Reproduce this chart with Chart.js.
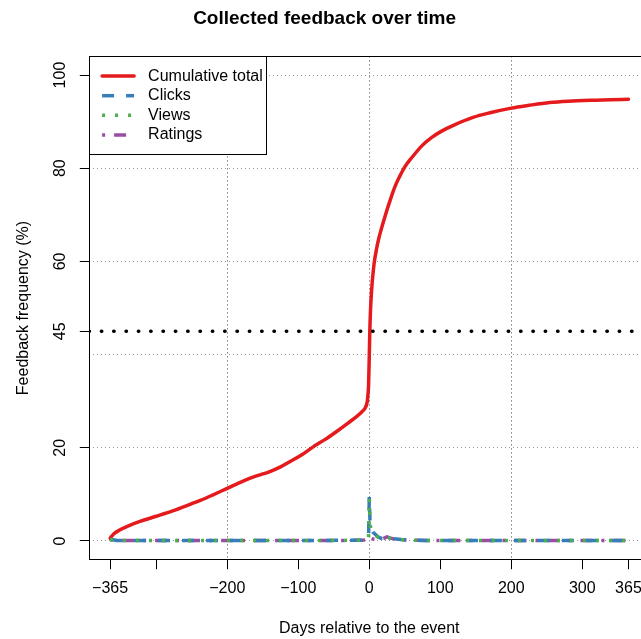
<!DOCTYPE html>
<html>
<head>
<meta charset="utf-8">
<title>Collected feedback over time</title>
<script src="https://cdn.jsdelivr.net/npm/chart.js@4.4.1/dist/chart.umd.min.js"></script>
<style>
  html, body { margin: 0; padding: 0; background: #fff; overflow: hidden; }
  canvas { display: block; }
</style>
</head>
<body>
<canvas id="feedbackChart" width="739" height="639"></canvas>
<script>
// ---- data: days relative to the event, feedback in % of total ----
const cumulativeDays = [-365, -360, -351, -340, -323, -300, -276, -250, -238, -220,
  -200, -177, -160, -140, -125, -112, -95, -79, -62, -46,
  -30, -18, -10, -6, -3, -2, -1, 0, 1, 2,
  3, 4, 5, 7, 10, 13, 17, 22, 28, 36,
  43, 50, 60, 74, 88, 100, 120, 146, 170, 200,
  225, 254, 280, 311, 340, 365];
const cumulativePct = [0.6, 1.5, 2.4, 3.2, 4.2, 5.3, 6.5, 8.0, 8.7, 9.9,
  11.3, 12.9, 13.9, 14.9, 15.9, 17.0, 18.5, 20.2, 21.8, 23.5,
  25.3, 26.7, 27.8, 28.5, 29.8, 31.2, 33.5, 40.0, 46.5, 50.5,
  53.2, 55.3, 57.0, 59.8, 62.5, 64.7, 67.0, 69.6, 72.5, 76.0,
  78.3, 80.3, 82.3, 84.8, 86.6, 87.8, 89.3, 90.9, 91.9, 92.9,
  93.5, 94.1, 94.4, 94.6, 94.7, 94.8];

const dailyDays = [-365, -355, -340, -320, -300, -280, -260, -240, -220, -200,
  -180, -160, -140, -120, -100, -80, -60, -40, -20, -10,
  -5, -3, -2, -1, 0, 1, 2, 3, 5, 8,
  12, 16, 20, 25, 30, 35, 45, 60, 80, 100,
  125, 150, 175, 200, 225, 250, 275, 300, 325, 350,
  365];
const clicksPct = [0.35, 0.12, 0.1, 0.11, 0.09, 0.1, 0.12, 0.1, 0.09, 0.1,
  0.11, 0.1, 0.09, 0.1, 0.11, 0.1, 0.12, 0.13, 0.15, 0.18,
  0.22, 0.4, 0.55, 0.8, 9.5, 4.1, 3.0, 2.4, 1.9, 1.5,
  0.9, 0.6, 0.55, 0.85, 0.6, 0.45, 0.3, 0.2, 0.12, 0.1,
  0.09, 0.1, 0.1, 0.09, 0.1, 0.1, 0.09, 0.08, 0.09, 0.08,
  0.08];
const viewsPct = [0.3, 0.1, 0.09, 0.1, 0.1, 0.09, 0.1, 0.11, 0.1, 0.09,
  0.1, 0.1, 0.1, 0.09, 0.1, 0.11, 0.1, 0.12, 0.14, 0.17,
  0.2, 0.35, 0.5, 0.7, 9.1, 3.8, 2.8, 2.2, 1.7, 1.3,
  0.85, 0.55, 0.5, 0.8, 0.55, 0.4, 0.28, 0.18, 0.11, 0.1,
  0.1, 0.09, 0.1, 0.1, 0.09, 0.1, 0.08, 0.09, 0.08, 0.08,
  0.08];
const ratingsPct = [0.25, 0.1, 0.1, 0.09, 0.1, 0.1, 0.1, 0.09, 0.1, 0.1,
  0.09, 0.1, 0.1, 0.1, 0.09, 0.1, 0.11, 0.12, 0.13, 0.16,
  0.25, 0.5, 0.7, 0.9, 1.0, 0.8, 0.6, 0.5, 0.4, 0.35,
  0.3, 0.35, 0.5, 0.9, 0.6, 0.4, 0.25, 0.15, 0.1, 0.09,
  0.1, 0.1, 0.09, 0.1, 0.1, 0.09, 0.1, 0.08, 0.08, 0.09,
  0.08];

const TARGET_LEVEL = 45;

// ---- axes ----
const X_RANGE = 394.2;
const X_TICKS = [-365, -300, -200, -100, 0, 100, 200, 300, 365];
const X_TICK_LABELS = ["\u2212365", "", "\u2212200", "\u2212100", "0", "100", "200", "300", "365"];
const X_GRID = [-200, 0, 200];
const Y_TICKS = [0, 20, 40, 45, 60, 80, 100];
const Y_TICK_LABELS = ["0", "20", "", "45", "60", "80", "100"];
const Y_GRID = [0, 20, 40, 60, 80, 100];

const FONT = "'Liberation Sans', Arial, Helvetica, sans-serif";
Chart.defaults.font.family = FONT;
Chart.defaults.font.size = 16;
Chart.defaults.color = "#000";

function points(days, values) {
  return days.map((d, i) => ({ x: d, y: values[i] }));
}

// box around the plotting region
const plotFrame = {
  id: "plotFrame",
  afterDatasetsDraw(chart) {
    const { ctx, chartArea: a } = chart;
    ctx.save();
    ctx.strokeStyle = "#000";
    ctx.lineWidth = 1;
    ctx.strokeRect(Math.round(a.left) + 0.5, Math.round(a.top) + 0.5,
      Math.round(a.right - a.left), Math.round(a.bottom - a.top));
    ctx.restore();
  },
};

// legend in the top-left corner of the plot
const insetLegend = {
  id: "insetLegend",
  afterDraw(chart) {
    const { ctx, chartArea: a } = chart;
    const x0 = Math.round(a.left) + 0.5;
    const y0 = Math.round(a.top) + 0.5;
    ctx.save();
    ctx.fillStyle = "#fff";
    ctx.fillRect(x0, y0, 177, 98);
    ctx.strokeStyle = "#000";
    ctx.lineWidth = 1;
    ctx.strokeRect(x0, y0, 177, 98);
    chart.data.datasets.slice(0, 4).forEach((ds, i) => {
      const y = y0 + 19.6 + i * 19.6;
      ctx.beginPath();
      ctx.setLineDash(ds.borderDash || []);
      ctx.lineCap = ds.borderCapStyle || "butt";
      ctx.lineWidth = ds.borderWidth;
      ctx.strokeStyle = ds.borderColor;
      ctx.moveTo(x0 + 12.6, y);
      ctx.lineTo(x0 + 44.6, y);
      ctx.stroke();
      ctx.setLineDash([]);
      ctx.fillStyle = "#000";
      ctx.font = "16px " + FONT;
      ctx.textBaseline = "middle";
      ctx.fillText(ds.label, x0 + 58.6, y);
    });
    ctx.restore();
  },
};

new Chart(document.getElementById("feedbackChart"), {
  type: "line",
  data: {
    datasets: [
      {
        label: "Cumulative total",
        data: points(cumulativeDays, cumulativePct),
        borderColor: "#E41A1C",
        borderWidth: 3.5,
        cubicInterpolationMode: "monotone",
        borderCapStyle: "round",
        order: 5,
      },
      {
        label: "Clicks",
        data: points(dailyDays, clicksPct),
        borderColor: "#377EB8",
        borderWidth: 3.5,
        borderDash: [12, 12],
        order: 2,
      },
      {
        label: "Views",
        data: points(dailyDays, viewsPct),
        borderColor: "#4DAF4A",
        borderWidth: 3.5,
        borderDash: [3, 10],
        order: 1,
      },
      {
        label: "Ratings",
        data: points(dailyDays, ratingsPct),
        borderColor: "#984EA3",
        borderWidth: 3.5,
        borderDash: [3, 9, 12, 9],
        order: 3,
      },
      {
        label: "target",
        data: [{ x: -X_RANGE, y: TARGET_LEVEL }, { x: X_RANGE, y: TARGET_LEVEL }],
        borderColor: "#000",
        borderWidth: 3.4,
        borderDash: [0.5, 11.83],
        borderDashOffset: 0.4,
        borderCapStyle: "round",
        order: 0,
      },
    ],
  },
  options: {
    responsive: false,
    animation: false,
    events: [],
    elements: { point: { radius: 0 }, line: { tension: 0, borderJoinStyle: "round" } },
    layout: { padding: { left: 0, right: 89.8, top: 0, bottom: 0 } },
    plugins: {
      legend: { display: false },
      tooltip: { enabled: false },
      title: {
        display: true,
        text: "Collected feedback over time",
        font: { size: 19, weight: "bold" },
        padding: { top: 7.6, bottom: 26 },
      },
    },
    scales: {
      x: {
        type: "linear",
        min: -X_RANGE,
        max: X_RANGE,
        afterBuildTicks: (scale) => { scale.ticks = X_TICKS.map((v) => ({ value: v })); },
        afterFit: (scale) => { scale.height = 79.4; },
        ticks: {
          autoSkip: false,
          maxRotation: 0,
          padding: 9.5,
          callback: (v) => X_TICK_LABELS[X_TICKS.indexOf(v)],
        },
        grid: {
          color: (c) => (c.tick && X_GRID.includes(c.tick.value) ? "#444" : "rgba(0,0,0,0)"),
          tickColor: "#000",
          tickLength: 9.6,
          lineWidth: 1,
        },
        border: { display: false, dash: [1, 3] },
        title: {
          display: true,
          text: "Days relative to the event",
          padding: { top: 0, bottom: 1 },
        },
      },
      y: {
        type: "linear",
        min: -4,
        max: 104,
        afterBuildTicks: (scale) => { scale.ticks = Y_TICKS.map((v) => ({ value: v })); },
        afterFit: (scale) => { scale.width = 89.4; },
        ticks: {
          autoSkip: false,
          minRotation: 90,
          maxRotation: 90,
          crossAlign: "center",
          padding: 6,
          callback: (v) => Y_TICK_LABELS[Y_TICKS.indexOf(v)],
        },
        grid: {
          color: (c) => (c.tick && Y_GRID.includes(c.tick.value) ? "#999" : "rgba(0,0,0,0)"),
          tickColor: (c) => (c.tick && Y_TICK_LABELS[Y_TICKS.indexOf(c.tick.value)] ? "#000" : "rgba(0,0,0,0)"),
          tickLength: 9.6,
          lineWidth: 1,
        },
        border: { display: false, dash: [1, 3] },
        title: {
          display: true,
          text: "Feedback frequency (%)",
          padding: { top: 14, bottom: 0 },
        },
      },
    },
  },
  plugins: [plotFrame, insetLegend],
});
</script>
</body>
</html>
